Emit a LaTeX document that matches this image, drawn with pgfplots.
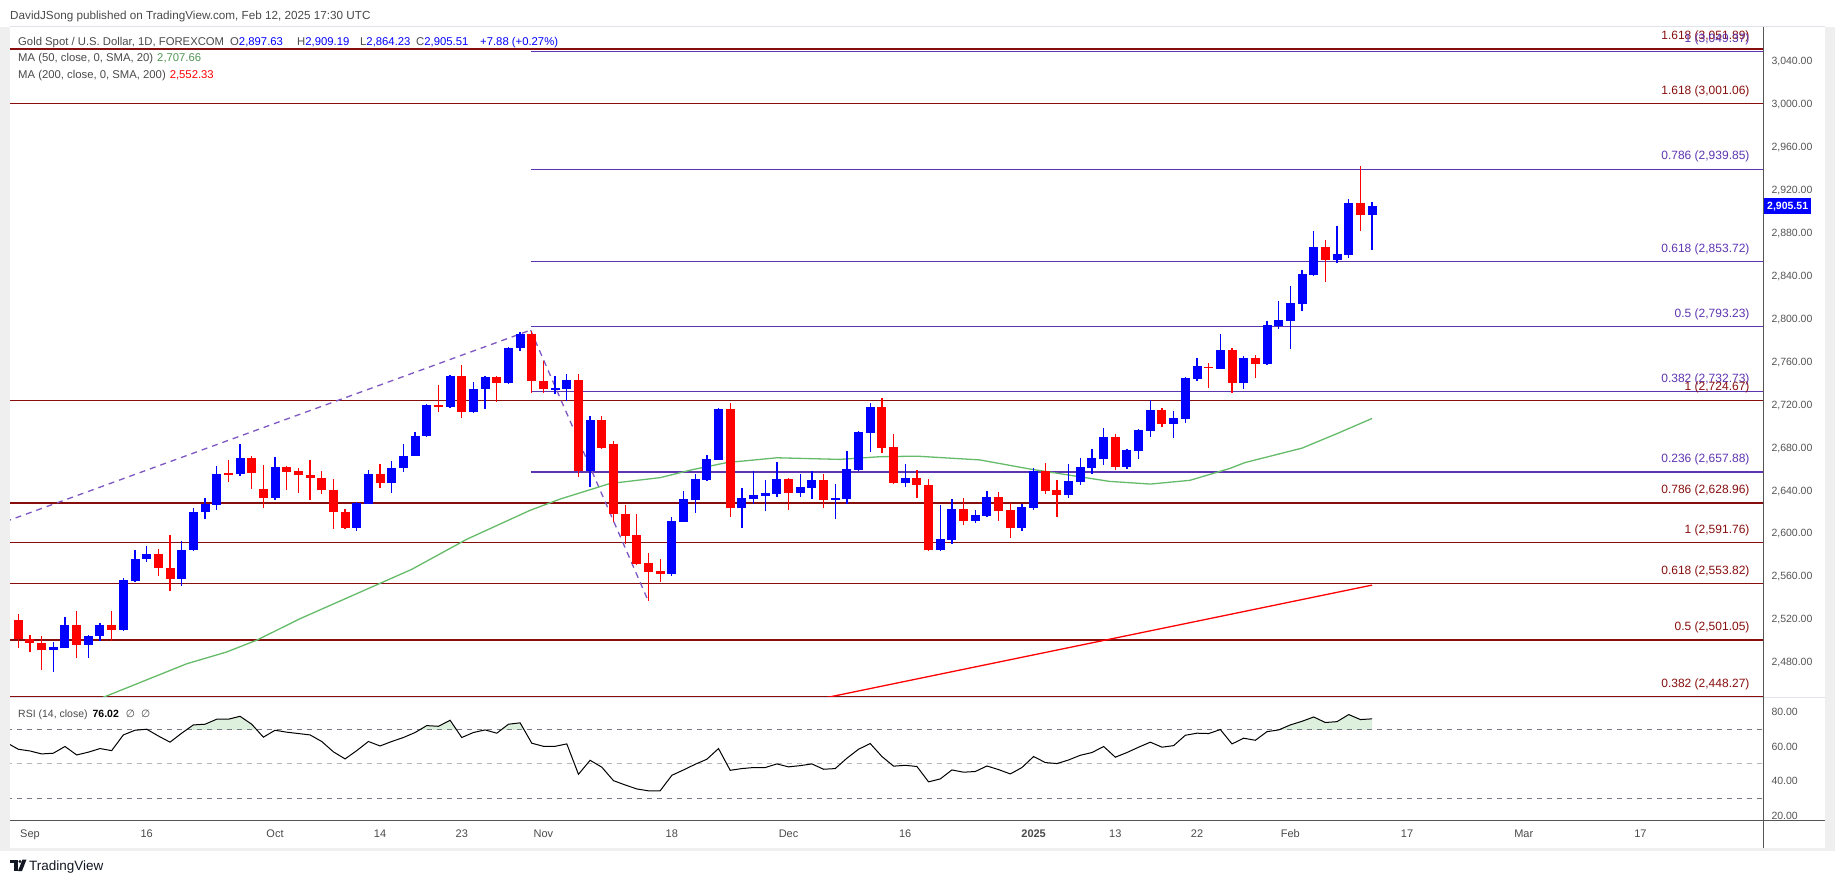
\documentclass[border=0pt]{standalone}
\usepackage{pgfplots}
\pgfplotsset{compat=1.18}
\usepackage{pgfplotstable}
\usepackage{fontspec}
\setmainfont{Liberation Sans}
\newfontfamily\dejavu{DejaVu Sans}
\newcommand\fs[1]{\fontsize{#1}{#1}\selectfont}
\definecolor{upcol}{HTML}{0000FF}
\definecolor{dncol}{HTML}{FF0000}
\definecolor{fibred}{HTML}{880E0E}
\definecolor{fibpur}{HTML}{5E35B1}
\definecolor{dashpur}{HTML}{7E57C2}
\definecolor{magreen}{HTML}{66BB6A}
\definecolor{txtgray}{HTML}{4A4A4A}
\definecolor{axgray}{HTML}{555555}
\definecolor{framegray}{HTML}{EFEFEF}
\definecolor{sepgray}{HTML}{E0E3EB}
\definecolor{rsifill}{HTML}{DDEFDD}
\definecolor{lvlgray}{HTML}{787B86}
\definecolor{tvdark}{HTML}{131722}

\pgfplotstableread{
k O H L C
3 2491.5 2499.6 2471.0 2494.6
4 2494.0 2522.9 2493.4 2515.4
6 2496.2 2506.1 2484.7 2505.2
7 2504.6 2517.3 2500.2 2515.4
9 2510.2 2558.6 2510.0 2557.4
10 2556.5 2585.4 2555.5 2577.0
11 2576.3 2589.1 2574.2 2581.3
14 2557.7 2593.7 2551.2 2585.3
15 2584.7 2624.5 2584.5 2620.8
16 2620.1 2633.8 2613.6 2627.6
17 2626.7 2663.6 2622.0 2656.2
19 2655.6 2684.2 2653.7 2671.1
22 2633.2 2672.0 2631.3 2662.7
29 2605.9 2630.1 2602.4 2629.2
30 2628.2 2659.9 2628.0 2656.2
32 2647.2 2668.3 2637.9 2661.8
33 2661.2 2684.2 2658.1 2673.0
34 2672.4 2695.3 2672.2 2691.6
35 2691.0 2721.4 2690.8 2720.5
37 2718.0 2748.0 2717.5 2747.5
39 2713.4 2742.0 2713.2 2735.4
40 2734.8 2746.8 2716.2 2746.6
42 2740.4 2774.0 2739.5 2773.6
43 2773.0 2788.6 2770.2 2786.7
46 2734.8 2747.5 2730.1 2735.7
47 2735.2 2749.4 2723.6 2743.5
49 2658.7 2710.2 2643.8 2706.5
56 2562.7 2615.5 2560.5 2611.8
57 2611.1 2639.7 2610.9 2632.3
58 2631.6 2655.6 2619.5 2650.9
59 2650.3 2673.3 2649.3 2669.5
60 2668.9 2717.0 2668.7 2716.1
62 2624.2 2642.5 2605.5 2633.2
63 2632.3 2658.4 2627.9 2636.0
64 2635.4 2650.0 2621.4 2637.8
65 2637.2 2666.7 2634.4 2650.9
67 2638.2 2655.6 2634.4 2643.5
68 2642.8 2658.4 2632.6 2650.0
70 2631.6 2646.2 2613.9 2633.5
71 2632.6 2677.0 2628.0 2660.3
72 2659.3 2695.7 2658.4 2694.8
73 2694.1 2721.8 2676.4 2718.1
76 2647.5 2664.9 2643.8 2652.5
79 2584.8 2626.7 2584.1 2595.0
80 2594.1 2632.3 2590.4 2623.0
82 2612.1 2622.0 2610.2 2617.4
83 2616.8 2639.8 2615.8 2634.2
86 2605.6 2627.6 2602.8 2624.9
87 2624.2 2661.2 2622.4 2658.4
90 2636.3 2664.9 2633.5 2649.1
91 2648.5 2670.5 2645.7 2662.1
92 2661.5 2678.9 2655.9 2670.5
93 2669.6 2698.5 2664.0 2690.1
95 2662.4 2678.9 2660.9 2678.0
96 2677.4 2697.5 2669.9 2696.6
97 2696.0 2724.6 2690.4 2715.3
99 2702.5 2714.3 2689.5 2707.8
100 2707.2 2746.0 2703.5 2745.1
101 2744.1 2763.7 2742.9 2756.3
103 2754.1 2786.1 2753.5 2771.2
105 2740.4 2765.6 2735.1 2763.7
107 2758.1 2798.2 2757.9 2794.5
108 2793.6 2816.9 2790.8 2799.1
109 2798.2 2830.8 2772.1 2815.0
110 2814.1 2845.7 2807.5 2842.0
111 2841.1 2882.1 2840.2 2867.2
113 2855.1 2886.8 2852.3 2860.7
114 2859.7 2911.9 2856.9 2908.2
116 2897.63 2909.19 2864.23 2905.51
}\upcandles

\pgfplotstableread{
k O H L C
0 2519.8 2525.7 2493.4 2501.8
1 2502.4 2506.1 2489.7 2498.0
2 2498.7 2504.9 2472.9 2491.5
5 2515.4 2528.5 2484.1 2496.2
8 2515.4 2528.5 2500.2 2510.2
12 2581.3 2586.3 2560.5 2567.9
13 2568.6 2599.3 2546.5 2557.7
18 2656.5 2669.2 2648.7 2655.6
20 2671.1 2673.0 2642.2 2656.5
21 2642.2 2664.6 2623.9 2633.2
23 2662.7 2662.9 2640.7 2657.4
24 2658.4 2661.8 2637.9 2654.6
25 2655.3 2669.3 2631.3 2651.8
26 2652.5 2659.0 2636.9 2640.7
27 2641.3 2651.5 2604.3 2620.2
28 2620.8 2623.6 2604.3 2605.9
31 2656.2 2665.5 2642.5 2647.2
36 2720.5 2739.2 2713.4 2718.0
38 2747.5 2757.8 2707.8 2713.4
41 2746.6 2746.8 2723.3 2740.4
44 2786.7 2789.5 2731.7 2742.3
45 2742.9 2761.5 2731.7 2734.8
48 2743.8 2749.4 2653.1 2658.7
50 2706.5 2710.2 2679.5 2680.1
51 2684.1 2686.3 2611.1 2618.6
52 2618.9 2627.3 2590.9 2598.1
53 2598.7 2618.9 2571.5 2572.0
54 2572.6 2581.9 2537.5 2564.5
55 2565.2 2576.3 2555.2 2562.7
61 2716.1 2721.7 2615.8 2624.2
66 2650.9 2651.8 2622.3 2638.2
69 2650.0 2655.6 2624.2 2631.6
74 2718.1 2726.4 2675.5 2680.1
75 2680.8 2692.9 2646.6 2647.5
77 2652.5 2659.3 2633.5 2645.7
78 2646.0 2651.6 2584.1 2584.8
81 2623.0 2633.2 2608.4 2612.1
84 2634.2 2638.8 2612.1 2621.4
85 2622.0 2628.6 2596.3 2605.6
88 2658.4 2665.9 2637.3 2640.1
89 2640.7 2650.0 2615.8 2636.3
94 2690.1 2693.5 2659.3 2662.4
98 2715.3 2717.1 2699.7 2702.5
102 2756.0 2759.1 2736.1 2754.7
104 2771.2 2773.0 2731.4 2740.4
106 2763.7 2766.5 2745.1 2758.1
112 2867.2 2873.7 2834.6 2855.1
115 2908.2 2942.7 2882.1 2897.63
}\dncandles

\pgfplotstableread{
k r
-1 62.2
0 58.4
1 57.4
2 55.7
3 56.1
4 60.0
5 55.1
6 56.7
7 58.8
8 57.6
9 66.7
10 69.4
11 70.0
12 66.1
13 62.5
14 67.7
15 72.5
16 72.9
17 75.8
18 75.8
19 77.5
20 72.9
21 65.4
22 69.4
23 68.3
24 67.5
25 66.7
26 62.9
27 56.9
28 52.8
29 57.6
30 62.9
31 60.3
32 62.9
33 65.2
34 68.1
35 72.1
36 71.7
37 75.2
38 65.2
39 68.1
40 69.6
41 67.7
42 72.9
43 73.7
44 61.9
45 60.1
46 60.1
47 61.5
48 43.9
49 52.0
50 48.0
51 40.2
52 37.7
53 35.4
54 34.3
55 34.3
56 43.3
57 46.4
58 49.7
59 52.6
60 58.8
61 46.2
62 47.2
63 47.8
64 47.8
65 49.9
66 48.2
67 48.9
68 49.9
69 46.8
70 47.2
71 53.2
72 58.4
73 61.7
74 54.2
75 48.6
76 49.1
77 48.4
78 39.5
79 41.2
80 46.4
81 45.1
82 45.5
83 48.7
84 46.6
85 44.1
86 47.8
87 54.2
88 50.7
89 50.1
90 52.2
91 54.9
92 56.5
93 60.0
94 53.8
95 56.5
96 59.6
97 62.5
98 59.6
99 60.5
100 66.5
101 67.7
102 67.5
103 69.8
104 61.5
105 64.8
106 63.6
107 68.6
108 69.6
109 72.5
110 74.6
111 77.1
112 73.9
113 74.4
114 78.5
115 75.6
116 76.02
}\rsidata

\pgfplotsset{
  wick/.style={only marks, mark=*, mark size=0pt, mark options={draw=none, fill=none}, forget plot,
    error bars/y dir=both, error bars/y explicit, error bars/error mark=none,
    error bars/error bar style={draw=#1, line width=1.3pt}},
  body/.style={only marks, mark=*, mark size=0pt, mark options={draw=none, fill=none}, forget plot,
    error bars/y dir=both, error bars/y explicit, error bars/error mark=none,
    error bars/error bar style={draw=#1, line width=9pt}},
}

\begin{document}
\begin{tikzpicture}[x=1pt,y=1pt]
\fill[white] (0,0) rectangle (1835,883);
\fill[framegray] (0,32) rectangle (1835,856);
\fill[white] (10,35) rectangle (1825,856);

% ---------------- price panel ----------------
\begin{axis}[
  at={(10pt,185pt)}, anchor=south west, scale only axis,
  width=1753pt, height=670pt,
  xmin=-0.711, xmax=149.5, ymin=2447.1, ymax=3071.6,
  axis line style={draw=none}, tick style={draw=none}, major tick length=0pt,
  xtick=\empty,
  ytick={2480,2520,2560,2600,2640,2680,2720,2760,2800,2840,2880,2920,2960,3000,3040},
  yticklabel pos=right,
  yticklabel style={anchor=west, xshift=5pt, font=\fs{10.5}, text=axgray},
  yticklabel={\pgfmathprintnumber[fixed,fixed zerofill,precision=2,1000 sep={,},assume math mode=true]{\tick}},
  clip mode=individual,
]
% fib lines (red, full width)
\addplot[fibred, line width=1.3pt, forget plot] coordinates {(-1,3051.89) (150,3051.89)};
\addplot[fibred, line width=1.3pt, forget plot] coordinates {(-1,3001.06) (150,3001.06)};
\addplot[fibred, line width=1.3pt, forget plot] coordinates {(-1,2724.67) (150,2724.67)};
\addplot[fibred, line width=1.3pt, forget plot] coordinates {(-1,2628.96) (150,2628.96)};
\addplot[fibred, line width=1.3pt, forget plot] coordinates {(-1,2591.76) (150,2591.76)};
\addplot[fibred, line width=1.3pt, forget plot] coordinates {(-1,2553.82) (150,2553.82)};
\addplot[fibred, line width=1.3pt, forget plot] coordinates {(-1,2501.05) (150,2501.05)};
\addplot[fibred, line width=1.3pt, forget plot] coordinates {(-1,2448.27) (150,2448.27)};
% fib lines (purple, from the Oct high)
\addplot[fibpur, line width=1.3pt, forget plot] coordinates {(43.9,3049.37) (150,3049.37)};
\addplot[fibpur, line width=1.3pt, forget plot] coordinates {(43.9,2939.85) (150,2939.85)};
\addplot[fibpur, line width=1.3pt, forget plot] coordinates {(43.9,2853.72) (150,2853.72)};
\addplot[fibpur, line width=1.3pt, forget plot] coordinates {(43.9,2793.23) (150,2793.23)};
\addplot[fibpur, line width=1.3pt, forget plot] coordinates {(43.9,2732.73) (150,2732.73)};
\addplot[fibpur, line width=1.3pt, forget plot] coordinates {(43.9,2657.88) (150,2657.88)};
% dashed trend lines
\addplot[dashpur, line width=1.3pt, dash pattern=on 6pt off 5pt, forget plot] coordinates {(-2,2607.9) (43.9,2790)};
\addplot[dashpur, line width=1.3pt, dash pattern=on 6pt off 5pt, forget plot] coordinates {(43.9,2790) (54.0,2537)};
% moving averages
\addplot[magreen, line width=1.3pt, forget plot] coordinates {
(5,2438) (7.57,2449) (14.43,2479) (17.86,2490) (20.43,2501) (24.14,2521)
(33.71,2567) (38.42,2595) (43.85,2622) (46.42,2632.5) (50.7,2647) (55,2652.5)
(57.8,2660) (60.7,2666.5) (65,2671) (70.4,2669.5) (73.84,2672) (77,2672.5)
(82.4,2669) (86.7,2660.5) (93.5,2649) (97,2646.5) (100.4,2650) (103.8,2661)
(105.1,2666.5) (110,2680) (113.1,2694) (116,2707.66)};
\addplot[dncol, line width=1.3pt, forget plot] coordinates {
(66,2440.2) (80,2471.6) (92,2498.5) (104,2525.4) (116,2552.33)};
% candles
\addplot[wick=upcol] table[x=k, y expr={(\thisrow{H}+\thisrow{L})/2}, y error expr={(\thisrow{H}-\thisrow{L})/2}] {\upcandles};
\addplot[body=upcol] table[x=k, y expr={(\thisrow{O}+\thisrow{C})/2}, y error expr={max(abs(\thisrow{C}-\thisrow{O})/2,0.5)}] {\upcandles};
\addplot[wick=dncol] table[x=k, y expr={(\thisrow{H}+\thisrow{L})/2}, y error expr={(\thisrow{H}-\thisrow{L})/2}] {\dncandles};
\addplot[body=dncol] table[x=k, y expr={(\thisrow{O}+\thisrow{C})/2}, y error expr={max(abs(\thisrow{C}-\thisrow{O})/2,0.5)}] {\dncandles};
% fib labels
\tikzset{fibl/.style={anchor=base east, yshift=9.5pt, font=\fs{12}}}
\node[fibl, text=fibred] at (axis cs:148.64,3051.89) {1.618 (3,051.89)};
\node[fibl, text=fibpur] at (axis cs:148.64,3049.37) {1 (3,049.37)};
\node[fibl, text=fibred] at (axis cs:148.64,3001.06) {1.618 (3,001.06)};
\node[fibl, text=fibpur] at (axis cs:148.64,2939.85) {0.786 (2,939.85)};
\node[fibl, text=fibpur] at (axis cs:148.64,2853.72) {0.618 (2,853.72)};
\node[fibl, text=fibpur] at (axis cs:148.64,2793.23) {0.5 (2,793.23)};
\node[fibl, text=fibpur] at (axis cs:148.64,2732.73) {0.382 (2,732.73)};
\node[fibl, text=fibred] at (axis cs:148.64,2724.67) {1 (2,724.67)};
\node[fibl, text=fibpur] at (axis cs:148.64,2657.88) {0.236 (2,657.88)};
\node[fibl, text=fibred] at (axis cs:148.64,2628.96) {0.786 (2,628.96)};
\node[fibl, text=fibred] at (axis cs:148.64,2591.76) {1 (2,591.76)};
\node[fibl, text=fibred] at (axis cs:148.64,2553.82) {0.618 (2,553.82)};
\node[fibl, text=fibred] at (axis cs:148.64,2501.05) {0.5 (2,501.05)};
\node[fibl, text=fibred] at (axis cs:148.64,2448.27) {0.382 (2,448.27)};
% last price tag
\node[fill=upcol, text=white, font=\fs{10.5}\bfseries, anchor=west, inner xsep=3pt, minimum height=15pt, xshift=1pt] at (axis cs:149.5,2905.51) {2,905.51};
\end{axis}

% ---------------- RSI panel ----------------
\begin{axis}[
  at={(10pt,63pt)}, anchor=south west, scale only axis,
  width=1753pt, height=122pt,
  xmin=-0.711, xmax=149.5, ymin=17.4, ymax=88.1,
  axis line style={draw=none}, tick style={draw=none}, major tick length=0pt,
  ytick={20,40,60,80},
  yticklabel pos=right,
  yticklabel style={anchor=west, xshift=5pt, font=\fs{10.5}, text=axgray},
  yticklabel={\pgfmathprintnumber[fixed,fixed zerofill,precision=2,assume math mode=true]{\tick}},
  xtick={1,11,22,31,38,45,56,66,76,87,94,101,109,119,129,139},
  xticklabels={Sep,16,Oct,14,23,Nov,18,Dec,16,\textbf{2025},13,22,Feb,17,Mar,17},
  xticklabel style={anchor=base, yshift=-17pt, font=\fs{11}, text=txtgray},
  clip mode=individual,
]
\begin{scope}
\clip (axis cs:-1,70) rectangle (axis cs:150,100);
\addplot[draw=none, fill=rsifill, forget plot] table[x=k,y=r] {\rsidata} \closedcycle;
\end{scope}
\addplot[lvlgray, line width=1pt, dash pattern=on 5pt off 5pt, forget plot] coordinates {(-1,70) (150,70)};
\addplot[lvlgray!55, line width=1pt, dash pattern=on 5pt off 5pt, forget plot] coordinates {(-1,50) (150,50)};
\addplot[lvlgray, line width=1pt, dash pattern=on 5pt off 5pt, forget plot] coordinates {(-1,30) (150,30)};
\addplot[black, line width=1pt, forget plot] table[x=k,y=r] {\rsidata};
\end{axis}

% frame lines
\draw[sepgray, line width=1pt] (10,856) -- (1825,856);
\draw[sepgray, line width=1pt] (10,185) -- (1825,185);
\draw[axgray, line width=1pt] (10,63) -- (1825,63);
\draw[axgray, line width=1pt] (1763,35) -- (1763,856);

% header
\node[anchor=base west, font=\fs{11.7}, text=txtgray, inner sep=0pt] at (10,863.5) {DavidJSong published on TradingView.com, Feb 12, 2025 17:30 UTC};
% legend
\begin{scope}[every node/.style={anchor=base west, inner sep=0pt, font=\fs{11.3}}]
\node[text=txtgray] at (18,837.5) {Gold Spot / U.S. Dollar, 1D, FOREXCOM};
\node at (230,837.5) {\textcolor{txtgray}{O}\textcolor{upcol}{2,897.63}};
\node at (297,837.5) {\textcolor{txtgray}{H}\textcolor{upcol}{2,909.19}};
\node at (360,837.5) {\textcolor{txtgray}{L}\textcolor{upcol}{2,864.23}};
\node at (416,837.5) {\textcolor{txtgray}{C}\textcolor{upcol}{2,905.51}};
\node[text=upcol] at (480,837.5) {+7.88 (+0.27\%)};
\node at (18,821) {\textcolor{txtgray}{MA (50, close, 0, SMA, 20)}\hspace{4pt}\textcolor{magreen!80!black}{2,707.66}};
\node at (18,804.5) {\textcolor{txtgray}{MA (200, close, 0, SMA, 200)}\hspace{4pt}\textcolor{dncol}{2,552.33}};
\end{scope}
% RSI label
\node[anchor=base west, inner sep=0pt, font=\fs{10.5}] at (18,165) {\textcolor{txtgray}{RSI (14, close)}\hspace{5pt}\textbf{76.02}\hspace{7pt}\textcolor{txtgray}{\dejavu ∅\hspace{6pt}∅}};

% footer logo
\fill[tvdark] (10,23.5) rectangle (17.5,20);
\fill[tvdark] (14,23.5) rectangle (17.5,12);
\fill[tvdark] (20,21.5) circle (1.7);
\fill[tvdark] (22.5,23.5) -- (26.5,23.5) -- (22,12) -- (18,12) -- cycle;
\node[anchor=base west, inner sep=0pt, font=\fs{13.5}, text=tvdark] at (29,12.5) {TradingView};
\end{tikzpicture}
\end{document}
